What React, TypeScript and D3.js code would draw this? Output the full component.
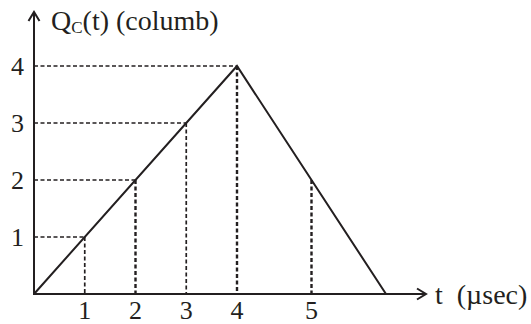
import React, { useEffect, useRef } from "react";
import * as d3 from "d3";

// Charge on the capacitor vs. time (triangular pulse)
const times = [0, 4, 6];
const charges = [0, 4, 0];
const xTickValues = [1, 2, 3, 4, 5];
const yTickValues = [1, 2, 3, 4];
// guide points (t, Q); horizontal guides run to the Q axis where flagged
const guideT = [1, 2, 3, 4, 5];
const guideQ = [1, 2, 3, 4, 2];
const guideHorizontal = [true, true, true, true, false];

const W = 531;
const H = 324;
const INK = "#231f20";
const SERIF = '"Liberation Serif", "Times New Roman", Tinos, serif';

export default function App() {
  const svgRef = useRef<SVGSVGElement>(null);

  // the time axis is drawn with a stretched section after t = 4
  const x = d3.scaleLinear().domain([0, 4, 6]).range([34, 237, 386]);
  const y = d3.scaleLinear().domain([0, 4]).range([294, 66]);

  const line = d3
    .line<number>()
    .x((_, i) => x(times[i]))
    .y((d) => y(d));

  const x0 = x(0);
  const y0 = y(0);

  useEffect(() => {
    if (!svgRef.current) return;
    d3.select(svgRef.current)
      .selectAll<SVGTextElement, unknown>("text")
      .each(function () {
        this.style.setProperty("font-family", SERIF, "important");
      });
  }, []);

  return (
    <svg
      id="qc-chart"
      ref={svgRef}
      width={W}
      height={H}
      style={{ position: "absolute", left: 0, top: 0, background: "#fff" }}
    >
      <style>{`#qc-chart text, #qc-chart tspan { font-family: ${SERIF} !important; }`}</style>

      {/* dashed guides */}
      {guideT.map((t, i) => (
        <g key={t}>
          {guideHorizontal[i] && (
            <line
              x1={x0}
              x2={x(t)}
              y1={y(guideQ[i])}
              y2={y(guideQ[i])}
              stroke={INK}
              strokeWidth={1.7}
              strokeDasharray="4,2.5"
            />
          )}
          <line
            x1={x(t)}
            x2={x(t)}
            y1={y(guideQ[i])}
            y2={y0}
            stroke={INK}
            strokeWidth={i % 2 === 1 || t >= 4 ? 2.4 : 1.7}
            strokeDasharray="4,2.5"
          />
        </g>
      ))}

      {/* charge curve */}
      <path
        d={line(charges) || ""}
        fill="none"
        stroke={INK}
        strokeWidth={2}
        strokeLinejoin="miter"
      />

      {/* axes */}
      <line x1={x0} x2={x0} y1={y0 + 1} y2={12} stroke={INK} strokeWidth={2} />
      <path
        d={`M${x0 - 5.5},${21} L${x0},${12} L${x0 + 5.5},${21}`}
        fill="none"
        stroke={INK}
        strokeWidth={2}
      />
      <line x1={x0 - 1} x2={426} y1={y0} y2={y0} stroke={INK} strokeWidth={2} />
      <path
        d={`M${417},${y0 - 5.5} L${426},${y0} L${417},${y0 + 5.5}`}
        fill="none"
        stroke={INK}
        strokeWidth={2}
      />

      {/* tick labels */}
      {yTickValues.map((v) => (
        <text
          key={v}
          x={24}
          y={y(v)}
          dy="0.34em"
          textAnchor="end"
          fontSize={26}
          fontFamily={SERIF}
          fill={INK}
        >
          {v}
        </text>
      ))}
      {xTickValues.map((v) => (
        <text
          key={v}
          x={x(v)}
          y={319}
          textAnchor="middle"
          fontSize={26}
          fontFamily={SERIF}
          fill={INK}
        >
          {v}
        </text>
      ))}

      {/* axis titles */}
      <text x={51} y={30} fontSize={28} fontFamily={SERIF} fill={INK}>
        Q
        <tspan fontSize={17} dy={3}>
          C
        </tspan>
        <tspan dy={-3}>(t) (columb)</tspan>
      </text>
      <text x={435} y={304} fontSize={28} fontFamily={SERIF} fill={INK}>
        t{"\u00a0\u00a0"}(µsec)
      </text>
    </svg>
  );
}
